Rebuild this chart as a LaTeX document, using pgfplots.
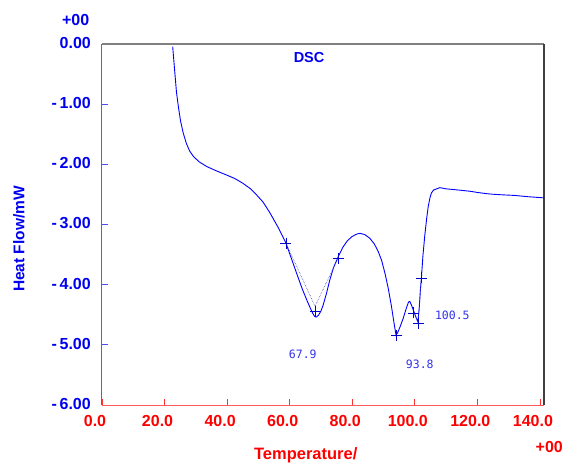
\documentclass[border=0pt]{standalone}
\usepackage{fontspec}
\setmainfont{Liberation Sans}
\newfontfamily\peakfont{DejaVu Sans Mono}
\usepackage{pgfplots}
\pgfplotsset{compat=1.18}

\definecolor{curveblue}{RGB}{0,0,255}
\definecolor{labblue}{RGB}{0,0,240}
\definecolor{peakblue}{RGB}{50,50,235}
\definecolor{labred}{RGB}{255,0,0}

\begin{document}
\begin{tikzpicture}
\begin{axis}[
 scale only axis,
 width=442pt,height=361.3pt,
 xmin=0,xmax=141.3,ymin=-6,ymax=0,
 clip=false,
 axis line style={draw=none},
 tick align=inside,
 xtick pos=bottom,ytick pos=left,
 major tick length=6pt,
 xtick={0,20,...,140},
 xticklabels={0.0,20.0,40.0,60.0,80.0,100.0,120.0,140.0},
 ytick={-6,-5,...,0},
 yticklabels={-\,6.00,-\,5.00,-\,4.00,-\,3.00,-\,2.00,-\,1.00,0.00},
 x tick style={labred!80,line width=0.8pt},
 y tick style={labblue!70,line width=0.8pt},
 xticklabel style={font=\fontsize{16}{18}\selectfont\bfseries,text=labred,anchor=north,inner sep=0pt,yshift=-10.5pt,xshift=-7pt},
 yticklabel style={font=\fontsize{16}{18}\selectfont\bfseries,text=labblue,anchor=east,inner sep=0pt,xshift=-11pt,yshift=1pt},
]
% frame
\draw[labred!65,line width=1pt] (rel axis cs:0,0) -- (rel axis cs:1,0);
\draw[labblue!65,line width=1pt] (rel axis cs:0,0) -- (rel axis cs:0,1);
\draw[black!50,line width=1.6pt] (rel axis cs:0,1) -- (rel axis cs:1,1);
\draw[black!75,line width=1.6pt] (rel axis cs:1,0) -- (rel axis cs:1,1);

% DSC curve
\addplot[curveblue,line width=0.9pt] coordinates {
(22.6,-0.05) (23.0,-0.30) (23.3,-0.49) (23.8,-0.80) (24.4,-1.04)
(25.1,-1.28) (26.0,-1.49) (27.0,-1.66) (28.0,-1.78) (29.2,-1.87)
(31.0,-1.96) (33.5,-2.04) (36.5,-2.11) (39.8,-2.18) (42.5,-2.24)
(45.1,-2.32) (47.5,-2.41) (49.4,-2.51) (51.5,-2.63) (53.7,-2.81)
(56.2,-3.04) (58.8,-3.31) (60.5,-3.56) (62.2,-3.81) (64.0,-4.07)
(65.5,-4.26) (66.5,-4.38) (67.4,-4.48) (68.0,-4.53) (68.5,-4.54)
(69.2,-4.51) (70.0,-4.44) (70.7,-4.34) (71.8,-4.14) (72.8,-3.93)
(74.0,-3.72) (75.5,-3.54) (77.0,-3.38) (78.5,-3.27) (80.0,-3.20)
(81.5,-3.16) (82.5,-3.15) (84.0,-3.17) (85.6,-3.23) (87.0,-3.32)
(88.3,-3.45) (89.4,-3.60) (90.5,-3.82) (91.5,-4.06) (92.5,-4.35)
(93.3,-4.62) (94.0,-4.84) (94.5,-4.80) (95.3,-4.70) (96.3,-4.56)
(97.3,-4.39) (98.0,-4.29) (98.4,-4.28) (99.0,-4.35) (99.8,-4.46)
(100.5,-4.56) (101.0,-4.62) (101.4,-4.40) (101.8,-4.08) (102.1,-3.90)
(102.6,-3.52) (103.2,-3.18) (103.8,-2.90) (104.3,-2.70) (104.8,-2.57)
(105.3,-2.48) (106.0,-2.43) (107.0,-2.41) (108.0,-2.39) (110.0,-2.41)
(114.0,-2.43) (117.6,-2.45) (120.0,-2.47) (122.9,-2.49) (125.0,-2.50)
(128.2,-2.51) (132.0,-2.52) (136.0,-2.54) (141.3,-2.56)};

% baselines (dotted)
\addplot[blue!45!gray,densely dotted,line width=0.6pt] coordinates {
(58.8,-3.31) (68.1,-4.36) (75.5,-3.56)};
\addplot[blue!45!gray,densely dotted,line width=0.6pt] coordinates {
(99.5,-4.47) (101.1,-4.60) (102.1,-3.89)};

% analysis markers
\addplot[only marks,mark=+,mark size=5.5pt,curveblue!80!black,line width=0.7pt] coordinates {
(58.8,-3.31) (68.2,-4.44) (75.5,-3.56) (94.1,-4.85)
(99.5,-4.47) (101.1,-4.64) (102.1,-3.89)};

% texts
\node[font=\fontsize{14.5}{16}\selectfont\bfseries,text=labblue] at (axis cs:66.2,-0.237) {DSC};
\node[font=\peakfont\fontsize{11.5}{13}\selectfont,text=peakblue] at (axis cs:64.2,-5.15) {67.9};
\node[font=\peakfont\fontsize{11.5}{13}\selectfont,text=peakblue] at (axis cs:101.6,-5.32) {93.8};
\node[font=\peakfont\fontsize{11.5}{13}\selectfont,text=peakblue] at (axis cs:112,-4.51) {100.5};

\node[font=\fontsize{15.5}{17}\selectfont\bfseries,text=labblue,rotate=90,anchor=center]
 at (axis description cs:-0.1878,0.4595) {Heat Flow/mW};
\node[font=\fontsize{16.5}{18}\selectfont\bfseries,text=labred,anchor=base]
 at (axis description cs:0.461,-0.1505) {Temperature/};
\node[font=\fontsize{16}{18}\selectfont\bfseries,text=labblue,anchor=east,inner sep=0pt]
 at (axis description cs:-0.0283,1.0656) {+00};
\node[font=\fontsize{16}{18}\selectfont\bfseries,text=labred,anchor=east,inner sep=0pt]
 at (axis description cs:1.043,-0.1154) {+00};

\coordinate (bbll) at (axis description cs:-0.23077,-0.1633);
\coordinate (bbur) at (axis description cs:1.0498,1.121);
\end{axis}
\pgfresetboundingbox
\path[use as bounding box] (bbll) rectangle (bbur);
\end{tikzpicture}
\end{document}
